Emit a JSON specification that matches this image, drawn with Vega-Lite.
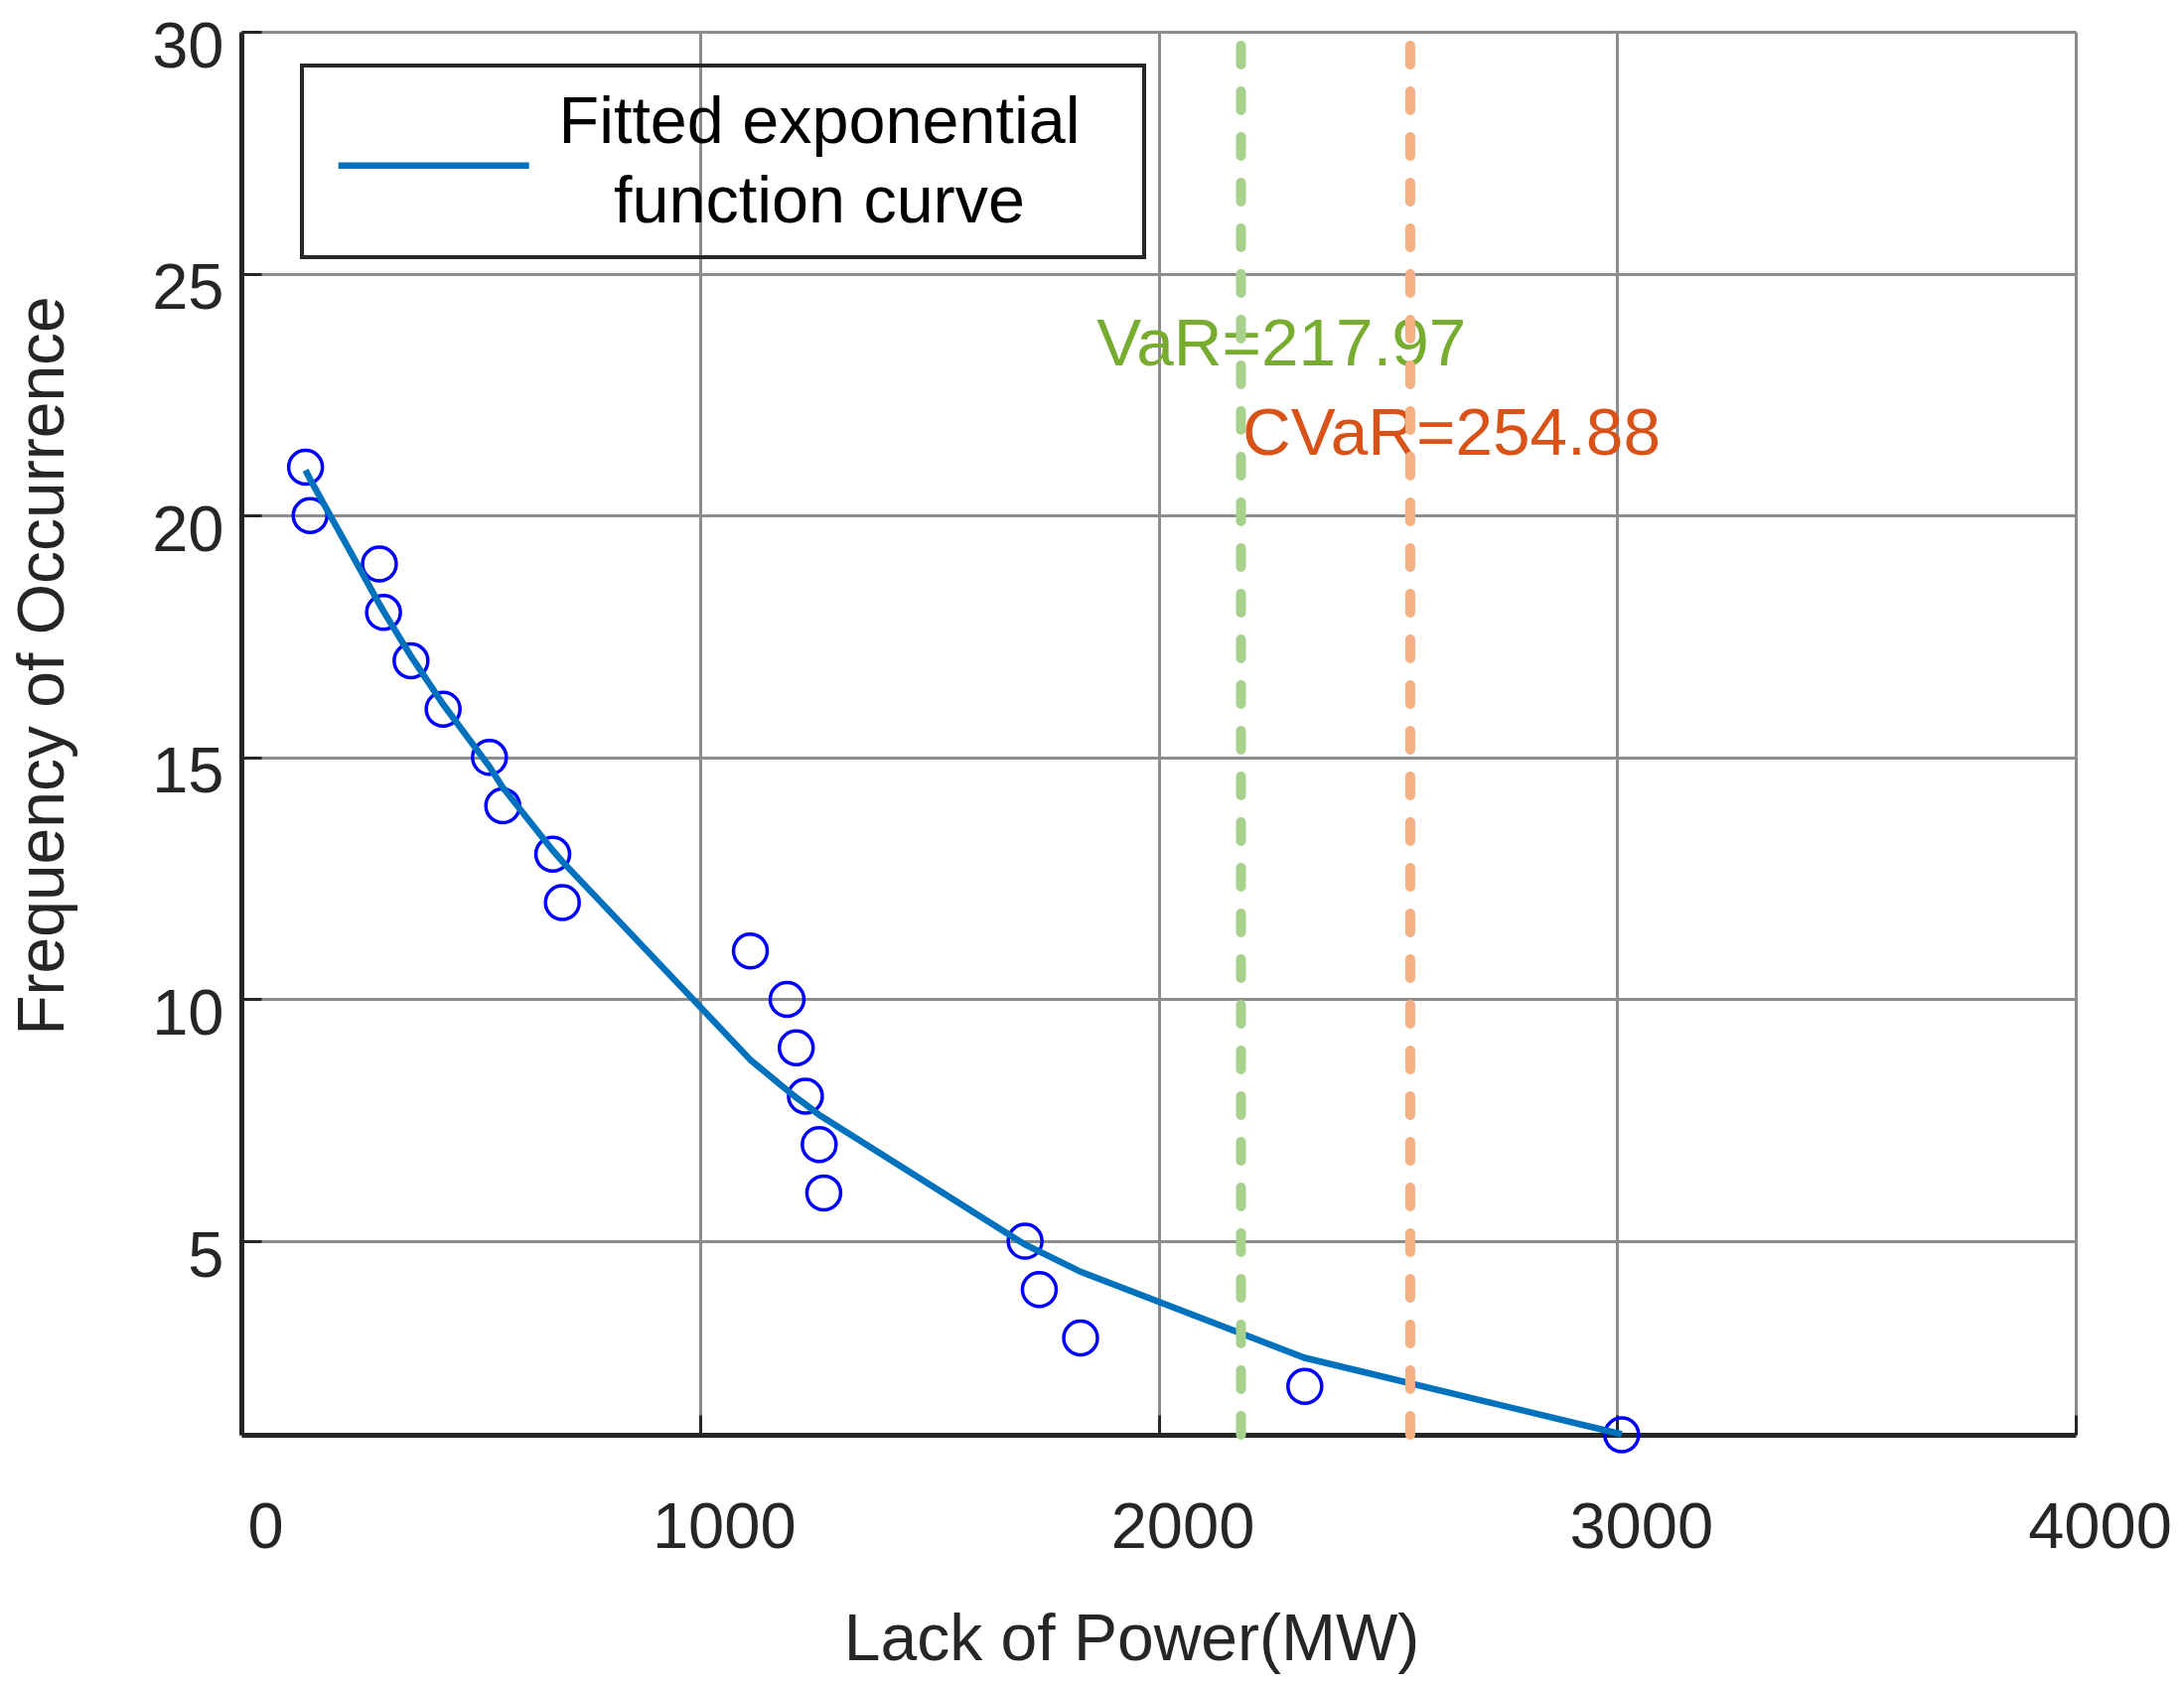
{
  "$schema": "https://vega.github.io/schema/vega-lite/v6.json",
  "width": 1847,
  "height": 1413,
  "autosize": {"type": "none"},
  "padding": {"left": 243, "top": 32, "right": 109, "bottom": 253},
  "background": "white",
  "config": {
    "view": {"stroke": null},
    "font": "Liberation Sans",
    "axis": {
      "labelFontSize": 65,
      "titleFontSize": 66,
      "labelColor": "#262626",
      "titleColor": "#262626",
      "titleFontWeight": "normal",
      "domainColor": "#262626",
      "domainWidth": 5,
      "tickColor": "#262626",
      "tickWidth": 3,
      "tickSize": -20,
      "gridColor": "#8c8c8c",
      "gridWidth": 3,
      "gridOpacity": 1,
      "labelFlush": false,
      "labelOverlap": false
    }
  },
  "datasets": {
    "points": [
      {"power": 140, "freq": 21}, {"power": 150, "freq": 20}, {"power": 301, "freq": 19},
      {"power": 310, "freq": 18}, {"power": 370, "freq": 17}, {"power": 440, "freq": 16},
      {"power": 541, "freq": 15}, {"power": 570, "freq": 14}, {"power": 679, "freq": 13},
      {"power": 700, "freq": 12}, {"power": 1110, "freq": 11}, {"power": 1190, "freq": 10},
      {"power": 1210, "freq": 9}, {"power": 1230, "freq": 8}, {"power": 1260, "freq": 7},
      {"power": 1270, "freq": 6}, {"power": 1709, "freq": 5}, {"power": 1740, "freq": 4},
      {"power": 1830, "freq": 3}, {"power": 2319, "freq": 2}, {"power": 3010, "freq": 1}
    ],
    "fit": [
      {"power": 140, "fitted": 20.94, "series": "Fitted exponential function curve"},
      {"power": 150, "fitted": 20.75, "series": "Fitted exponential function curve"},
      {"power": 301, "fitted": 18.17, "series": "Fitted exponential function curve"},
      {"power": 310, "fitted": 18.02, "series": "Fitted exponential function curve"},
      {"power": 370, "fitted": 17.09, "series": "Fitted exponential function curve"},
      {"power": 440, "fitted": 16.1, "series": "Fitted exponential function curve"},
      {"power": 541, "fitted": 14.81, "series": "Fitted exponential function curve"},
      {"power": 570, "fitted": 14.38, "series": "Fitted exponential function curve"},
      {"power": 679, "fitted": 13.08, "series": "Fitted exponential function curve"},
      {"power": 700, "fitted": 12.85, "series": "Fitted exponential function curve"},
      {"power": 1110, "fitted": 8.75, "series": "Fitted exponential function curve"},
      {"power": 1190, "fitted": 8.12, "series": "Fitted exponential function curve"},
      {"power": 1210, "fitted": 7.97, "series": "Fitted exponential function curve"},
      {"power": 1230, "fitted": 7.83, "series": "Fitted exponential function curve"},
      {"power": 1260, "fitted": 7.61, "series": "Fitted exponential function curve"},
      {"power": 1270, "fitted": 7.55, "series": "Fitted exponential function curve"},
      {"power": 1709, "fitted": 4.93, "series": "Fitted exponential function curve"},
      {"power": 1740, "fitted": 4.79, "series": "Fitted exponential function curve"},
      {"power": 1830, "fitted": 4.37, "series": "Fitted exponential function curve"},
      {"power": 2319, "fitted": 2.59, "series": "Fitted exponential function curve"},
      {"power": 3010, "fitted": 1.01, "series": "Fitted exponential function curve"}
    ],
    "risk": [
      {"measure": "VaR", "value": 2179.7, "label": "VaR=217.97", "lx": 1865, "ly": 23.1},
      {"measure": "CVaR", "value": 2548.8, "label": "CVaR=254.88", "lx": 2183, "ly": 21.26}
    ]
  },
  "layer": [
    {
      "data": {"name": "points"},
      "mark": {"type": "point", "shape": "circle", "filled": false, "stroke": "#0000FF", "strokeWidth": 3.5, "size": 1156, "opacity": 1},
      "encoding": {
        "x": {
          "field": "power", "type": "quantitative",
          "scale": {"domain": [0, 4000], "nice": false, "zero": false},
          "axis": {"values": [0, 1000, 2000, 3000, 4000], "format": "d", "title": "Lack of Power(MW)", "labelPadding": 82, "labelOffset": 24, "titlePadding": 48, "titleX": 896}
        },
        "y": {
          "field": "freq", "type": "quantitative",
          "scale": {"domain": [1, 30], "nice": false, "zero": false},
          "axis": {"values": [5, 10, 15, 20, 25, 30], "format": "d", "title": "Frequency of Occurrence", "labelPadding": 38, "labelOffset": 15, "titlePadding": 75, "titleY": 638}
        }
      }
    },
    {
      "data": {"name": "fit"},
      "mark": {"type": "line", "strokeWidth": 6.5},
      "encoding": {
        "x": {"field": "power", "type": "quantitative", "scale": {"domain": [0, 4000], "nice": false, "zero": false}},
        "y": {"field": "fitted", "type": "quantitative", "scale": {"domain": [1, 30], "nice": false, "zero": false}},
        "color": {
          "field": "series", "type": "nominal",
          "scale": {"range": ["#0072BD"]},
          "legend": {
            "orient": "none",
            "legendX": 61,
            "legendY": 34,
            "title": null,
            "strokeColor": "#262626",
            "padding": 22,
            "symbolType": "M-0.65,1.35H5.35M23.6,1.35",
            "symbolSize": 4096,
            "symbolStrokeWidth": 6.5,
            "labelExpr": "['Fitted exponential', 'function curve']",
            "labelAlign": "center",
            "labelBaseline": "middle",
            "labelOffset": 428,
            "labelFontSize": 66.5,
            "labelColor": "#000000",
            "labelLimit": 2000,
            "encode": {
              "labels": {"update": {"lineHeight": {"value": 80}}},
              "legend": {"update": {"strokeWidth": {"value": 4}}}
            }
          }
        }
      }
    },
    {
      "data": {"name": "risk"},
      "mark": {"type": "text", "align": "left", "baseline": "alphabetic", "fontSize": 67.5},
      "encoding": {
        "x": {"field": "lx", "type": "quantitative"},
        "y": {"field": "ly", "type": "quantitative"},
        "text": {"field": "label"},
        "fill": {"field": "measure", "type": "nominal", "scale": {"domain": ["VaR", "CVaR"], "range": ["#77AC30", "#D95319"]}, "legend": null}
      }
    },
    {
      "data": {"name": "risk"},
      "mark": {"type": "rule", "strokeWidth": 10, "strokeDash": [19, 27], "strokeCap": "round"},
      "encoding": {
        "x": {"field": "value", "type": "quantitative"},
        "y": {"datum": 1, "type": "quantitative"},
        "y2": {"datum": 30},
        "stroke": {"field": "measure", "type": "nominal", "scale": {"domain": ["VaR", "CVaR"], "range": ["#A9D18E", "#F4B183"]}, "legend": null}
      }
    }
  ]
}
